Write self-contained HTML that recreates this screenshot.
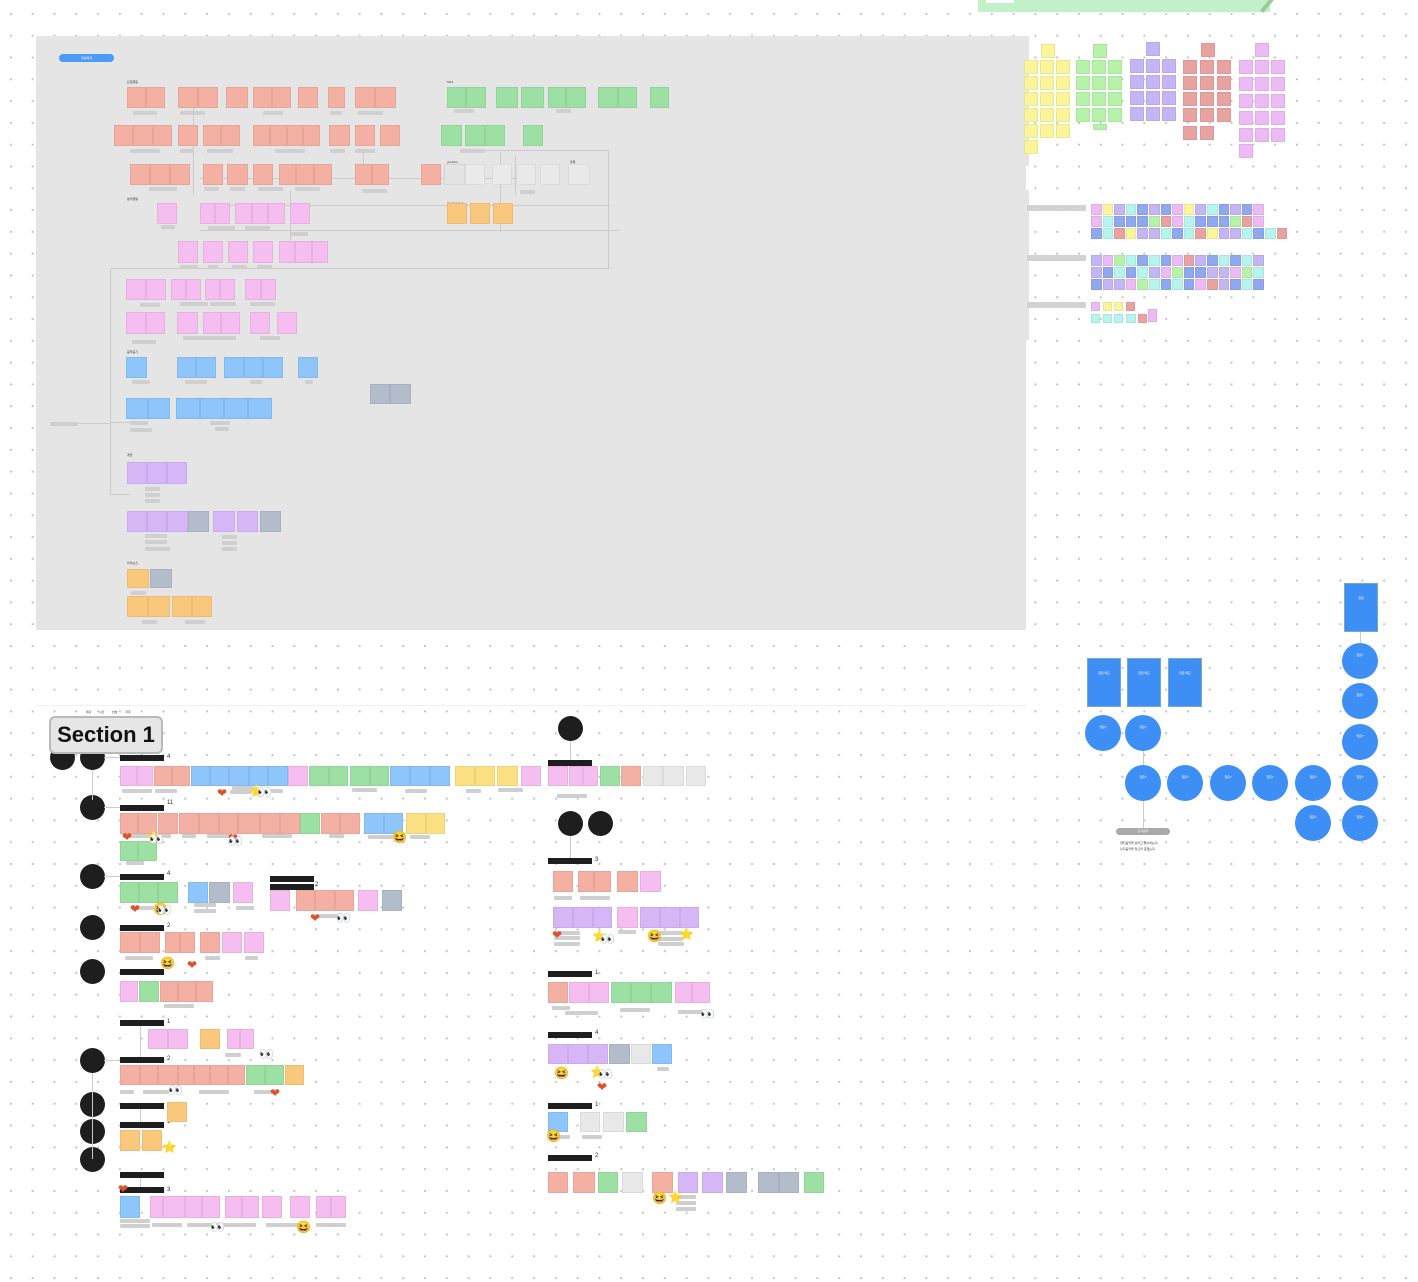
<!DOCTYPE html>
<html><head><meta charset="utf-8">
<style>
html,body{margin:0;padding:0}
body{width:1418px;height:1282px;position:relative;overflow:hidden;background-color:#fff;
background-image:radial-gradient(circle,#c4c4c4 1px,transparent 1.3px);background-size:21.8px 21.8px;background-position:0px 3px;
font-family:"Liberation Sans","Noto Sans CJK KR",sans-serif}
div{position:absolute;box-sizing:border-box}
.s{border:0.5px solid rgba(0,0,0,0.06);font-size:2px;color:#444;overflow:hidden;padding:1px}
.l{background:#cfcfcf;border-radius:1px;height:4px}
.b{background:#1e1e1e;height:6px;width:44px;color:#fff;font-size:2px}
.c{background:#1e1e1e;border-radius:50%;width:25px;height:25px}
.bc{background:#3d8ef5;border-radius:50%;width:36px;height:36px;color:#fff;font-size:3px;text-align:center;padding:10px 4px}
.br{background:#3d8ef5;color:#fff;font-size:3px;text-align:center;padding:12px 3px;border:1px solid #7ab}
.ln{background:#cfcfcf}
.t{font-size:3px;color:#333;white-space:nowrap}
.n{font-size:6px;color:#333}
</style></head><body>
<!-- main frame -->
<div style="left:36px;top:36px;width:990px;height:594px;background:#e5e5e5"></div>
<div style="left:1026px;top:36px;width:3px;height:130px;background:#e5e5e5"></div>
<div style="left:1026px;top:190px;width:3px;height:150px;background:#e5e5e5"></div>
<div style="left:978px;top:0;width:292px;height:12px;background:#c2f0c8"></div>
<div style="left:986px;top:0;width:28px;height:3px;background:#fff"></div>
<div style="left:1258px;top:2px;width:20px;height:4px;background:#9c9;transform:rotate(-50deg)"></div>
<div style="left:59px;top:54px;width:55px;height:8px;background:#4a9cf6;border-radius:4px;color:#fff;font-size:3px;text-align:center;line-height:8px">개념체계</div>
<div class="t" style="left:127px;top:80px">요일행동</div>
<div class="t" style="left:447px;top:80px">SNS</div>
<div class="t" style="left:127px;top:197px">분석행동</div>
<div class="t" style="left:447px;top:160px">youtube</div>
<div class="t" style="left:570px;top:160px">유튜</div>
<div class="t" style="left:447px;top:202px">재생관련동작</div>
<div class="t" style="left:127px;top:350px">음악듣기</div>
<div class="t" style="left:127px;top:453px">게임</div>
<div class="t" style="left:127px;top:561px">라이브스</div>
<!-- section 2 -->
<div style="left:36px;top:705px;width:990px;height:1px;background:#eee"></div>
<div class="t" style="left:86px;top:710px">제다 &nbsp;&nbsp;&nbsp;&nbsp;&nbsp;&nbsp;&nbsp; 시간 &nbsp;&nbsp;&nbsp;&nbsp;&nbsp;&nbsp;&nbsp; 번호 &nbsp;&nbsp;&nbsp;&nbsp;&nbsp;&nbsp;&nbsp; 자주</div>
<div style="left:1116px;top:828px;width:54px;height:7px;background:#a9a9a9;border-radius:4px;color:#fff;font-size:3px;text-align:center;line-height:7px">인디음악</div>
<div class="t" style="left:1120px;top:841px">인디음악을 보러고 찾아하는지</div>
<div class="t" style="left:1120px;top:847px">인디음악을 찾으러 갈했는지</div>
<div id="root"></div>
<div style="left:49px;top:716px;width:114px;height:38px;background:#e6e6e6;border:2px solid #b9b9b9;border-radius:6px;font-size:22px;font-weight:bold;color:#111;line-height:34px;text-align:center;white-space:nowrap;z-index:5">Section 1</div>
<script>
var C={s:'#f4b1a3',g:'#9de0a3',p:'#f5bdf0',b:'#8ec5fa',o:'#f9c87c',y:'#fbe083',v:'#d6b6f7',gb:'#b3bccb',w:'#ececec',ly:'#fbf59a',lg:'#b6f3a8',lp:'#c4b5f5',lr:'#e8a2a0',lpk:'#ecbaf5',cy:'#b5f5ee',bl:'#90a8ef'};
var H='';
function R(x,y,w,h,c,cls){H+='<div class="'+(cls||'s')+'" style="left:'+x+'px;top:'+y+'px;width:'+w+'px;height:'+h+'px;background:'+(C[c]||c)+'"></div>';}
function row(y,h,list){list.forEach(function(a){R(a[0],y,a[1]-a[0],h,a[2]);});}
function L(x,y,w){R(x,y,w,4,'#cfcfcf','l');}
function ln(x,y,w,h){R(x,y,w,h,'#cbcbcb','ln');}
ln(110,268,1,227);ln(110,268,500,1);ln(608,150,1,118);ln(478,150,130,1);ln(62,423,48,1);ln(110,494,20,1);ln(200,178,320,1);ln(290,190,1,50);ln(193,105,1,90);ln(500,152,1,80);ln(363,150,1,25);ln(230,205,380,1);ln(110,422,20,1);
ln(200,230,420,1);ln(515,155,1,40);
row(87,21,[[127,146,'s'],[146,165,'s'],[178,198,'s'],[198,218,'s'],[226,248,'s'],[253,272,'s'],[272,291,'s'],[298,318,'s'],[328,345,'s'],[355,375,'s'],[375,396,'s'],[447,466,'g'],[466,486,'g'],[496,518,'g'],[521,544,'g'],[548,566,'g'],[566,586,'g'],[598,618,'g'],[618,637,'g'],[650,669,'g']]);
row(125,21,[[114,133,'s'],[133,153,'s'],[153,172,'s'],[178,198,'s'],[203,221,'s'],[221,240,'s'],[253,270,'s'],[270,287,'s'],[287,303,'s'],[303,320,'s'],[329,350,'s'],[355,375,'s'],[380,400,'s'],[441,462,'g'],[465,485,'g'],[485,505,'g'],[523,543,'g']]);
row(164,21,[[130,150,'s'],[150,170,'s'],[170,190,'s'],[203,223,'s'],[227,248,'s'],[253,273,'s'],[279,296,'s'],[296,314,'s'],[314,332,'s'],[355,372,'s'],[372,389,'s'],[421,441,'s'],[444,465,'#e3e3e3'],[465,485,'#eaeaea'],[492,512,'#eaeaea'],[516,536,'#e9e9e9'],[540,560,'#e9e9e9'],[568,590,'#e9e9e9']]);
row(203,21,[[157,177,'p'],[200,215,'p'],[215,230,'p'],[235,252,'p'],[252,268,'p'],[268,285,'p'],[290,310,'p'],[447,467,'o'],[470,490,'o'],[493,513,'o']]);
row(241,22,[[178,198,'p'],[203,223,'p'],[228,248,'p'],[253,273,'p'],[279,295,'p'],[295,312,'p'],[312,328,'p']]);
row(279,21,[[126,146,'p'],[146,166,'p'],[171,186,'p'],[186,201,'p'],[205,220,'p'],[220,235,'p'],[245,261,'p'],[261,276,'p']]);
row(312,22,[[126,146,'p'],[146,165,'p'],[177,198,'p'],[203,221,'p'],[221,240,'p'],[250,270,'p'],[277,297,'p']]);
row(357,21,[[126,147,'b'],[177,196,'b'],[196,216,'b'],[224,244,'b'],[244,263,'b'],[263,283,'b'],[298,318,'b']]);
row(384,20,[[370,390,'gb'],[390,411,'gb']]);
row(398,21,[[126,148,'b'],[148,170,'b'],[176,200,'b'],[200,224,'b'],[224,248,'b'],[248,272,'b']]);
row(462,22,[[127,147,'v'],[147,167,'v'],[167,187,'v']]);
row(511,21,[[127,147,'v'],[147,167,'v'],[167,188,'v'],[188,209,'gb'],[213,235,'v'],[237,258,'v'],[260,281,'gb']]);
row(569,19,[[127,149,'o'],[150,172,'gb']]);
row(596,21,[[127,148,'o'],[148,170,'o'],[172,192,'o'],[192,212,'o']]);
[[133,111,24],[180,111,25],[263,111,20],[330,111,12],[358,111,25],[454,109,20],[556,109,15],[130,149,30],[180,149,14],[207,149,26],[275,149,30],[330,149,15],[355,149,20],[460,149,25],[149,187,28],[204,187,15],[230,187,15],[258,187,25],[295,187,25],[362,189,25],[520,190,15],[161,225,14],[208,226,27],[245,226,25],[290,232,18],[180,265,18],[208,265,10],[232,265,15],[257,265,15],[140,303,20],[180,302,28],[210,302,26],[250,302,25],[132,340,24],[183,336,30],[210,336,26],[260,336,20],[132,380,18],[185,380,22],[250,380,12],[305,380,8],[130,421,18],[130,428,22],[210,421,20],[215,427,14],[50,422,28],[145,487,15],[145,493,15],[145,499,15],[145,534,22],[145,540,22],[145,547,25],[222,535,15],[222,541,15],[222,547,15],[142,620,15],[185,620,20],[131,591,15]].forEach(function(a){L(a[0],a[1],a[2]);});
function grid(x0,cols,y0,rows,c,cw,ch,gx,gy){for(var i=0;i<cols;i++)for(var j=0;j<rows;j++)R(x0+i*gx,y0+j*gy,cw,ch,c);}
R(1041,44,14,14,'ly');grid(1024,3,60,5,'ly',14,14,16,16);R(1024,140,14,14,'ly');
R(1093,44,14,14,'lg');grid(1076,3,60,4,'lg',14,14,16,16);R(1093,124,14,6,'lg');
R(1146,42,14,14,'lp');grid(1130,3,59,4,'lp',14,14,16,16);
R(1201,43,14,14,'lr');grid(1183,3,60,4,'lr',14,14,17,16);grid(1183,2,126,1,'lr',14,14,17,16);
R(1255,43,14,14,'lpk');grid(1239,3,60,5,'lpk',14,14,16,17);R(1239,144,14,14,'lpk');
R(1027,205,59,6,'#d2d2d2','l');R(1027,255,59,6,'#d2d2d2','l');R(1027,302,59,6,'#d2d2d2','l');
function tgrid(y0,rows,counts,pal){for(var j=0;j<rows;j++)for(var i=0;i<counts[j];i++)R(1091+i*11.6,y0+j*12.2,10.5,10.5,pal[(i*3+j*7)%pal.length]);}
tgrid(204,3,[15,15,17],['lpk','lg','ly','ly','lr','lp','lp','lpk','lp','cy','cy','cy','bl','bl','bl','lp','bl','cy','bl','bl','lr']);
tgrid(255,3,[15,15,15],['lp','lpk','lp','lpk','lr','lpk','lg','lp','lg','cy','bl','bl','bl','cy','bl','cy','bl','lp','bl','cy']);
R(1091,302,9,9,'lpk');R(1103,302,9,9,'ly');R(1114,302,9,9,'ly');R(1126,302,9,9,'lr');
R(1091,314,9,9,'cy');R(1103,314,9,9,'cy');R(1114,314,9,9,'cy');R(1126,314,10,9,'cy');R(1138,314,9,9,'lr');R(1148,309,9,13,'lpk');
ln(1143,733,1,95);ln(1360,630,1,30);
[[1087,658],[1127,658],[1168,658]].forEach(function(a){H+='<div class="br" style="left:'+a[0]+'px;top:'+a[1]+'px;width:34px;height:49px">질문 메모</div>';});
H+='<div class="br" style="left:1344px;top:583px;width:34px;height:49px">질문</div>';
[[1085,715],[1125,715],[1125,765],[1167,765],[1210,765],[1252,765],[1295,765],[1295,805],[1342,643],[1342,683],[1342,724],[1342,765],[1342,805]].forEach(function(a){H+='<div class="bc" style="left:'+a[0]+'px;top:'+a[1]+'px">질문?</div>';});
[[50,745],[80,745],[80,795],[80,864],[80,915],[80,959],[80,1048],[80,1092],[80,1119],[80,1147],[558,716],[558,811],[588,811]].forEach(function(a){R(a[0],a[1],25,25,'#1e1e1e','c');});
ln(92,770,1,30);ln(92,1073,1,86);ln(570,741,1,20);ln(570,836,1,22);ln(104,757,16,1);ln(104,807,16,1);ln(104,876,16,1);ln(104,1060,16,1);ln(140,1020,1,40);ln(140,1108,1,15);ln(140,1177,1,10);
[[120,755],[120,805],[120,874],[120,925],[120,969],[120,1020],[120,1057],[120,1103],[120,1122],[120,1172],[120,1187],[270,876],[270,884],[548,760],[548,858],[548,971],[548,1032],[548,1103],[548,1155]].forEach(function(a){R(a[0],a[1],44,6,'#1e1e1e','b');});
[[167,754,'4'],[167,800,'11'],[167,871,'4'],[315,882,'2'],[167,923,'2'],[167,1019,'1'],[167,1056,'2'],[167,1119,'1'],[167,1187,'3'],[595,857,'3'],[595,970,'1'],[595,1030,'4'],[595,1102,'1'],[595,1153,'2']].forEach(function(a){H+='<div class="n" style="left:'+a[0]+'px;top:'+a[1]+'px">'+a[2]+'</div>';});
row(766,20,[[120,137,'p'],[137,153,'p'],[154,172,'s'],[172,190,'s'],[191,210,'b'],[210,229,'b'],[229,249,'b'],[249,268,'b'],[268,288,'b'],[288,308,'p'],[309,329,'g'],[329,348,'g'],[350,370,'g'],[370,389,'g'],[390,410,'b'],[410,430,'b'],[430,450,'b'],[455,475,'y'],[475,495,'y'],[497,518,'y'],[521,541,'p'],[548,568,'p'],[569,583,'p'],[583,598,'p'],[600,620,'g'],[621,641,'s'],[643,663,'#e8e8e8'],[663,684,'#e8e8e8'],[686,706,'#e8e8e8']]);
row(813,21,[[120,138,'s'],[138,157,'s'],[158,178,'s'],[179,199,'s'],[199,219,'s'],[219,238,'s'],[238,260,'s'],[260,280,'s'],[280,300,'s'],[300,320,'g'],[321,340,'s'],[340,360,'s'],[364,384,'b'],[384,403,'b'],[406,426,'y'],[426,445,'y']]);
row(841,20,[[120,138,'g'],[138,157,'g']]);
row(882,21,[[120,139,'g'],[139,158,'g'],[158,178,'g'],[188,208,'b'],[209,230,'gb'],[233,253,'p']]);
row(890,21,[[270,290,'p'],[296,315,'s'],[315,335,'s'],[335,354,'s'],[358,378,'p'],[382,402,'gb']]);
row(932,21,[[120,140,'s'],[140,160,'s'],[165,180,'s'],[180,195,'s'],[200,220,'s'],[222,242,'p'],[244,264,'p']]);
row(981,21,[[120,138,'p'],[139,159,'g'],[160,178,'s'],[178,196,'s'],[196,213,'s']]);
row(1029,20,[[148,168,'p'],[168,188,'p'],[200,220,'o'],[227,240,'p'],[240,254,'p']]);
row(1065,20,[[120,140,'s'],[140,158,'s'],[158,178,'s'],[178,194,'s'],[194,210,'s'],[210,228,'s'],[228,245,'s'],[246,265,'g'],[265,284,'g'],[285,304,'o']]);
row(1102,20,[[167,187,'o']]);
row(1130,21,[[120,140,'o'],[142,162,'o']]);
row(1196,22,[[120,140,'b'],[150,163,'p'],[163,185,'p'],[185,202,'p'],[202,220,'p'],[225,242,'p'],[242,259,'p'],[262,282,'p'],[290,310,'p'],[316,331,'p'],[331,346,'p']]);
row(871,21,[[553,573,'s'],[578,594,'s'],[594,611,'s'],[617,638,'s'],[640,661,'p']]);
row(907,21,[[553,573,'v'],[573,593,'v'],[593,612,'v'],[617,638,'p'],[640,660,'v'],[660,680,'v'],[680,699,'v']]);
row(982,21,[[548,568,'s'],[569,589,'p'],[589,609,'p'],[611,631,'g'],[631,651,'g'],[651,672,'g'],[675,692,'p'],[692,710,'p']]);
row(1044,20,[[548,568,'v'],[568,588,'v'],[588,608,'v'],[609,630,'gb'],[631,651,'#e8e8e8'],[652,672,'b']]);
row(1112,20,[[548,568,'b'],[580,600,'#e8e8e8'],[603,624,'#e8e8e8'],[626,647,'g']]);
row(1172,21,[[548,568,'s'],[573,595,'s'],[598,618,'g'],[622,643,'#e8e8e8'],[652,673,'s'],[678,698,'v'],[702,723,'v'],[726,747,'gb'],[758,779,'gb'],[779,799,'gb'],[804,824,'g']]);
[[122,789,30],[155,789,22],[230,790,22],[232,786,22],[265,789,18],[352,788,25],[405,789,22],[466,789,15],[498,788,25],[123,834,35],[157,834,14],[182,834,14],[207,834,25],[262,834,30],[329,834,15],[368,835,25],[410,835,20],[126,861,18],[132,906,22],[194,903,22],[194,909,22],[236,906,18],[318,914,20],[125,956,28],[205,956,15],[245,956,13],[164,1004,30],[225,1053,16],[120,1090,14],[143,1090,26],[199,1090,30],[254,1090,18],[120,1219,30],[120,1224,30],[152,1223,30],[187,1223,40],[226,1223,30],[266,1223,32],[316,1223,30],[557,794,30],[554,896,18],[580,896,30],[554,931,26],[554,936,26],[554,942,26],[618,930,18],[658,931,25],[658,937,25],[658,942,26],[552,1006,18],[565,1011,33],[620,1008,30],[678,1010,26],[657,1067,12],[550,1135,20],[582,1135,20],[676,1195,20],[676,1201,20],[676,1207,20]].forEach(function(a){L(a[0],a[1],a[2]);});
[[217,787,'❤'],[249,785,'⭐'],[257,786,'👀'],[122,831,'❤'],[146,831,'⭐'],[149,833,'👀'],[228,832,'❤'],[228,835,'👀'],[392,831,'😆'],[130,903,'❤'],[153,903,'😆'],[157,904,'👀'],[310,912,'❤'],[336,912,'👀'],[187,959,'❤'],[160,957,'😆'],[259,1048,'👀'],[168,1084,'👀'],[270,1087,'❤'],[162,1141,'⭐'],[118,1183,'❤'],[210,1221,'👀'],[296,1221,'😆'],[552,929,'❤'],[592,930,'⭐'],[600,933,'👀'],[647,930,'😆'],[679,928,'⭐'],[700,1008,'👀'],[554,1067,'😆'],[590,1066,'⭐'],[598,1068,'👀'],[597,1081,'❤'],[546,1130,'😆'],[652,1192,'😆'],[668,1191,'⭐']].forEach(function(a){var col=a[2]=='❤'?'#e0502b':a[2]=='⭐'?'#f5c431':'#333';H+='<div style="left:'+a[0]+'px;top:'+a[1]+'px;font-size:12px;line-height:12px;color:'+col+'">'+a[2]+'</div>';});
document.getElementById('root').innerHTML=H;
</script>
</body></html>
